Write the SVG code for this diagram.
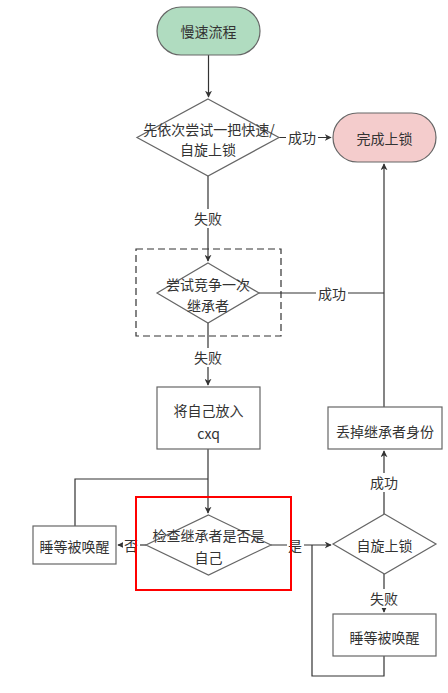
<svg xmlns="http://www.w3.org/2000/svg" width="448" height="693" viewBox="0 0 448 693">
<defs>
<marker id="arr" viewBox="0 0 10 10" refX="9" refY="5" markerWidth="7" markerHeight="7" markerUnits="userSpaceOnUse" orient="auto">
<path d="M0,0 L10,5 L0,10 L3,5 Z" fill="#333"/>
</marker>
</defs>
<style>
text{font-family:"Noto Sans CJK SC","Liberation Sans",sans-serif;font-size:14px;fill:#333;text-anchor:middle;dominant-baseline:central}
.n{fill:#fff;stroke:#666;stroke-width:1.2}
.c{fill:none;stroke:#333;stroke-width:1.2}
.lb{fill:#fff;stroke:none}
</style>
<rect width="448" height="693" fill="#fff"/>
<g id="connectors">
<path class="c" d="M208.5,55 V97" marker-end="url(#arr)"/>
<path class="c" d="M279,137.5 H331" marker-end="url(#arr)"/>
<path class="c" d="M208,176 V261" marker-end="url(#arr)"/>
<path class="c" d="M259,293 H384"/>
<path class="c" d="M384,407 V164" marker-end="url(#arr)"/>
<path class="c" d="M208,323 V385" marker-end="url(#arr)"/>
<path class="c" d="M208,449 V513" marker-end="url(#arr)"/>
<path class="c" d="M208,479 H75 V526"/>
<path class="c" d="M146,545 H118" marker-end="url(#arr)"/>
<path class="c" d="M271,545 H331" marker-end="url(#arr)"/>
<path class="c" d="M384,514 V451" marker-end="url(#arr)"/>
<path class="c" d="M384,574 V612" marker-end="url(#arr)"/>
<path class="c" d="M384,656 V676 H312 V545"/>
<rect class="lb" x="286" y="128" width="32" height="19"/>
<text x="302" y="137">成功</text>
<rect class="lb" x="192" y="209" width="32" height="19"/>
<text x="208" y="218">失败</text>
<rect class="lb" x="316" y="284" width="32" height="19"/>
<text x="332" y="293">成功</text>
<rect class="lb" x="192" y="348" width="32" height="19"/>
<text x="208" y="357">失败</text>
<rect class="lb" x="123" y="536" width="17" height="19"/>
<text x="131" y="545">否</text>
<rect class="lb" x="287" y="536" width="17" height="19"/>
<text x="295" y="545">是</text>
<rect class="lb" x="368" y="473" width="32" height="19"/>
<text x="384" y="482">成功</text>
<rect class="lb" x="368" y="589" width="32" height="19"/>
<text x="384" y="598">失败</text>
</g>
<g id="start">
<rect x="157" y="7" width="103" height="48" rx="24" fill="#b0dcc0" stroke="#666" stroke-width="1.2"/>
<text x="208.5" y="31">慢速流程</text>
</g>
<g id="tryFast">
<polygon class="n" points="208,99 279,137.5 208,176 137,137.5"/>
<text x="209" y="129">先依次尝试一把快速/</text>
<text x="208" y="149">自旋上锁</text>
</g>
<g id="done">
<rect x="333" y="113" width="103" height="49" rx="24.5" fill="#f4cccc" stroke="#666" stroke-width="1.2"/>
<text x="384.5" y="137.5">完成上锁</text>
</g>
<g id="dashedGroup">
<rect x="136" y="249" width="145" height="87" fill="none" stroke="#333" stroke-width="1.2" stroke-dasharray="7,4"/>
</g>
<g id="compete">
<polygon class="n" points="208,263 259,293 208,323 157,293"/>
<text x="208" y="284">尝试竞争一次</text>
<text x="208" y="305">继承者</text>
</g>
<g id="enqueue">
<rect class="n" x="157" y="387" width="103" height="62"/>
<text x="208.5" y="410">将自己放入</text>
<text x="208.5" y="433">cxq</text>
</g>
<g id="sleep1">
<rect class="n" x="33" y="526" width="83" height="38"/>
<text x="74.5" y="546">睡等被唤醒</text>
</g>
<g id="redBox">
<rect x="136" y="497" width="155" height="93" fill="none" stroke="#ff0000" stroke-width="2"/>
</g>
<g id="checkSuccessor">
<polygon class="n" points="208.5,515 271,545 208.5,575 146,545"/>
<text x="208.5" y="535">检查继承者是否是</text>
<text x="208.5" y="557">自己</text>
</g>
<g id="spin">
<polygon class="n" points="384.5,514 436,544 384.5,574 333,544"/>
<text x="384.5" y="545">自旋上锁</text>
</g>
<g id="dropSuccessor">
<rect class="n" x="328" y="407" width="114" height="42"/>
<text x="385" y="431">丢掉继承者身份</text>
</g>
<g id="sleep2">
<rect class="n" x="333" y="614" width="103" height="42"/>
<text x="384.5" y="637">睡等被唤醒</text>
</g>
</svg>
